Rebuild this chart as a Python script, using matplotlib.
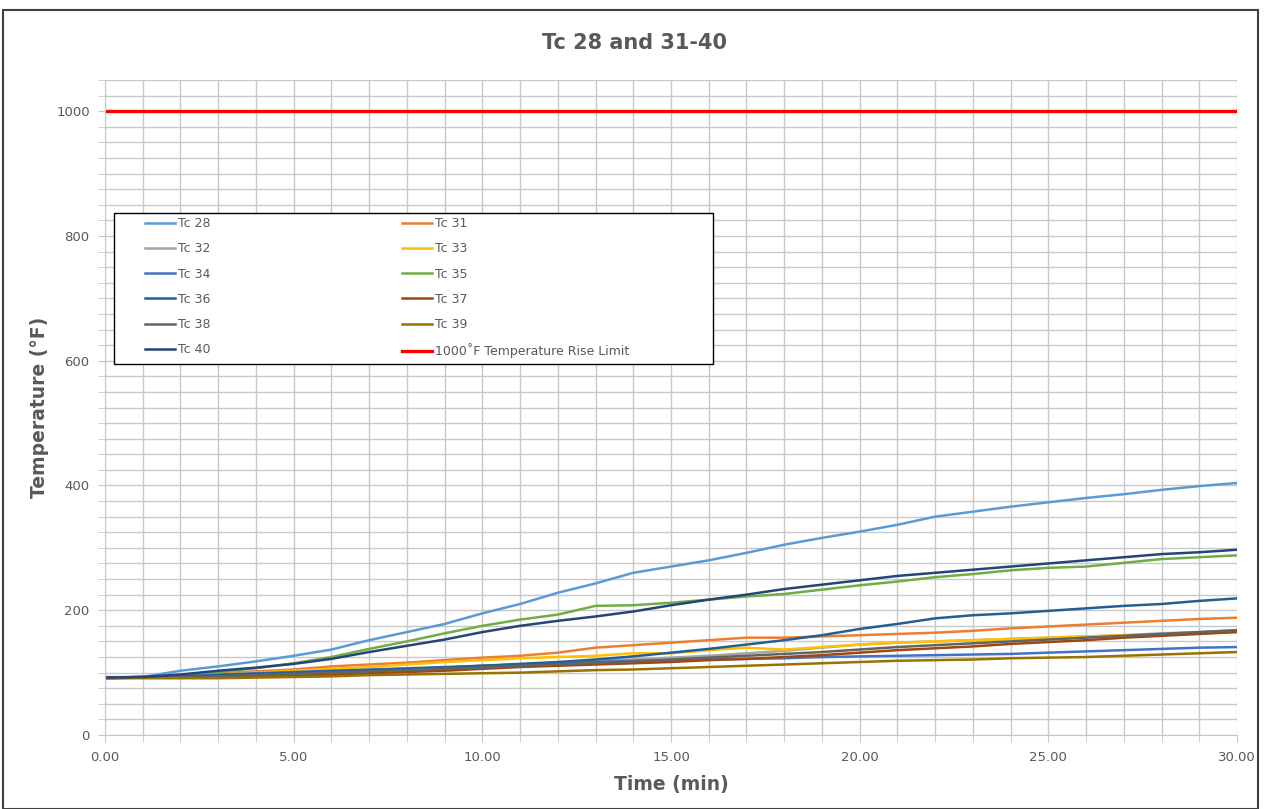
import numpy as np
import matplotlib
matplotlib.use('Agg')
import matplotlib.pyplot as plt
from matplotlib.patches import Rectangle

# ── Data (one value per minute) ───────────────────────────────────────────────
time_min = list(range(0, 31))

tc28 = [90, 93, 103, 110, 118, 127, 137, 152, 165, 178, 195, 210, 228, 243, 260, 270,
        280, 292, 305, 316, 326, 337, 350, 358, 366, 373, 380, 386, 393, 399, 404]
tc31 = [92, 93, 96, 99, 102, 105, 110, 113, 116, 120, 124, 127, 132, 140, 144, 148,
        152, 156, 156, 158, 160, 162, 164, 167, 171, 174, 177, 180, 183, 186, 188]
tc32 = [92, 93, 94, 96, 98, 100, 102, 104, 106, 108, 111, 113, 116, 119, 121, 124,
        127, 131, 135, 140, 145, 148, 150, 152, 154, 156, 158, 160, 163, 165, 168]
tc33 = [93, 93, 95, 97, 100, 103, 106, 109, 113, 117, 120, 123, 125, 127, 131, 131,
        136, 140, 137, 141, 145, 148, 150, 152, 154, 156, 158, 160, 161, 163, 165]
tc34 = [92, 93, 95, 97, 99, 101, 103, 105, 107, 109, 111, 113, 115, 117, 119, 120,
        121, 122, 123, 125, 126, 127, 128, 129, 130, 132, 134, 136, 138, 140, 141]
tc35 = [91, 92, 96, 101, 107, 115, 125, 138, 150, 163, 175, 185, 193, 207, 208, 212,
        217, 222, 226, 233, 240, 246, 253, 258, 264, 268, 270, 276, 282, 285, 288]
tc36 = [92, 93, 94, 96, 98, 100, 102, 104, 106, 108, 111, 114, 117, 121, 126, 132,
        138, 145, 152, 160, 170, 178, 187, 192, 195, 199, 203, 207, 210, 215, 219]
tc37 = [92, 92, 92, 93, 94, 95, 97, 99, 101, 103, 106, 109, 111, 113, 115, 117,
        120, 122, 125, 128, 132, 136, 139, 142, 146, 149, 152, 156, 159, 162, 165]
tc38 = [92, 92, 93, 94, 96, 98, 100, 102, 104, 106, 108, 111, 113, 116, 118, 121,
        124, 127, 130, 133, 137, 141, 144, 147, 150, 153, 156, 159, 162, 165, 168]
tc39 = [91, 91, 91, 91, 92, 93, 94, 96, 97, 98, 99, 100, 102, 104, 105, 107,
        109, 111, 113, 115, 117, 119, 120, 121, 123, 124, 125, 127, 129, 131, 133]
tc40 = [92, 93, 97, 103, 108, 114, 122, 133, 143, 153, 165, 175, 183, 190, 198, 208,
        217, 225, 234, 241, 248, 255, 260, 265, 270, 275, 280, 285, 290, 293, 297]
limit = [1000] * 31

series = [
    ('Tc 28', tc28, '#5B9BD5'),
    ('Tc 31', tc31, '#ED7D31'),
    ('Tc 32', tc32, '#A5A5A5'),
    ('Tc 33', tc33, '#FFC000'),
    ('Tc 34', tc34, '#4472C4'),
    ('Tc 35', tc35, '#70AD47'),
    ('Tc 36', tc36, '#255E91'),
    ('Tc 37', tc37, '#9E480E'),
    ('Tc 38', tc38, '#636363'),
    ('Tc 39', tc39, '#997300'),
    ('Tc 40', tc40, '#264478'),
]

TXT = '#595959'
GRID = '#C8C8C8'
W, H = 1269, 809

# ── Figure ────────────────────────────────────────────────────────────────────
fig = plt.figure(figsize=(W / 100, H / 100), dpi=100)
fig.patches.append(Rectangle((3 / W, 0), 1255 / W, 799 / H, transform=fig.transFigure,
                             fill=False, edgecolor='#404040', linewidth=1.5))
ax = fig.add_axes([105 / W, 1 - 735 / H, 1132 / W, 655 / H])

def ax_px(x, y):
    # pixel position in the picture -> axes fraction
    return (x - 105) / 1132, (735 - y) / 655

handles = {}
for name, vals, col in series:
    h, = ax.plot(time_min, vals, color=col, linewidth=1.8, label=name)
    handles[name] = h
h, = ax.plot(time_min, limit, color='#FF0000', linewidth=2.4,
             label='1000\u02daF Temperature Rise Limit')
handles['limit'] = h

ax.set_xlim(0, 30)
ax.set_ylim(0, 1050)
ax.set_xticks(np.arange(0, 31, 5))
ax.set_xticks(np.arange(0, 31, 1), minor=True)
ax.set_yticks(np.arange(0, 1001, 200))
ax.set_yticks(np.arange(0, 1051, 25), minor=True)
ax.xaxis.set_major_formatter(matplotlib.ticker.FormatStrFormatter('%.2f'))
ax.grid(which='both', color=GRID, linewidth=1.0)
ax.set_axisbelow(True)
for s in ['top', 'right']:
    ax.spines[s].set_visible(False)
for s in ['left', 'bottom']:
    ax.spines[s].set_color(GRID)
ax.tick_params(which='both', colors=GRID, labelcolor=TXT, labelsize=9.5)
ax.tick_params(axis='x', which='both', length=5, pad=6.5)
ax.tick_params(axis='y', which='both', length=5, pad=6)

ax.set_xlabel('Time (min)', fontsize=13.5, fontweight='bold', color=TXT, labelpad=8)
ax.set_ylabel('Temperature (\u00b0F)', fontsize=13.5, fontweight='bold', color=TXT, labelpad=5)
fig.text(0.5, 1 - 43 / H, 'Tc 28 and 31-40', ha='center', va='center',
         fontsize=15, fontweight='bold', color=TXT)

# legend box drawn by hand so it spans the same width as the original
x0, y0 = ax_px(114, 364)
x1, y1 = ax_px(713, 213)
ax.add_patch(Rectangle((x0, y0), x1 - x0, y1 - y0, transform=ax.transAxes,
                       facecolor='white', edgecolor='black', linewidth=1.0,
                       zorder=4.5, clip_on=False))

# legend: two columns, row-major order like Excel
col1 = ['Tc 28', 'Tc 32', 'Tc 34', 'Tc 36', 'Tc 38', 'Tc 40']
col2 = ['Tc 31', 'Tc 33', 'Tc 35', 'Tc 37', 'Tc 39', 'limit']
hs = [handles[k] for k in col1 + col2]
leg = ax.legend(hs, [x.get_label() for x in hs], ncol=2, loc='upper left',
                bbox_to_anchor=ax_px(145, 217), borderaxespad=0, borderpad=0,
                fontsize=9, frameon=False, handlelength=2.4, handletextpad=0.25,
                columnspacing=15.3, labelspacing=0.98, labelcolor=TXT)
leg.set_zorder(5)

fig.savefig('out.png', dpi=100)
